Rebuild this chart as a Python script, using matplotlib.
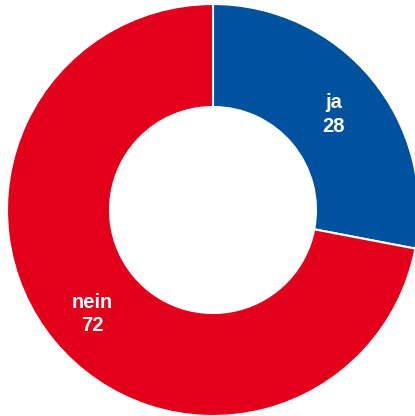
import matplotlib.pyplot as plt
import numpy as np

labels = ["ja", "nein"]
values = [28, 72]
colors = ["#00529F", "#E2001A"]

fig = plt.figure(figsize=(4.15, 4.16), dpi=100)
ax = fig.add_axes([0, 0, 1, 1])

wedges, _ = ax.pie(values, colors=colors, startangle=90, counterclock=False,
                   radius=1.0, wedgeprops=dict(width=0.5, edgecolor="white", linewidth=1.5))

# labels in the middle of the ring
total = sum(values)
start = 90.0
for lab, v in zip(labels, values):
    mid = np.deg2rad(start - 360.0 * v / total / 2)
    ax.text(0.76 * np.cos(mid), 0.76 * np.sin(mid) - 0.02, f"{lab}\n{v}",
            ha="center", va="center", color="white", fontsize=14.5,
            fontweight="bold", family="Liberation Sans", linespacing=1.3)
    start -= 360.0 * v / total

r = 206.0
ax.set_xlim(-213 / r, (415 - 213) / r)
ax.set_ylim(-206 / r, 210 / r)
ax.set_aspect("auto")
ax.axis("off")

fig.savefig("out.png", dpi=100)
